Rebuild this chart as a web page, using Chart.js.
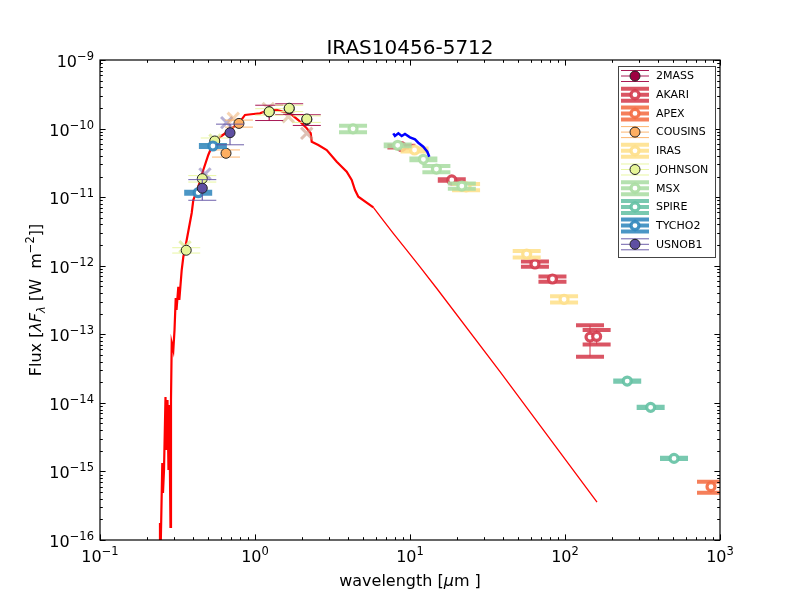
<!DOCTYPE html>
<html><head><meta charset="utf-8">
<script src="https://cdn.jsdelivr.net/npm/chart.js@4.4.0/dist/chart.umd.min.js"></script>
<style>html,body{margin:0;padding:0;background:#fff}canvas{display:block}</style>
</head><body>
<canvas id="c" width="800" height="600"></canvas>
<script>
// ---------------- DATA ----------------
const TITLE = 'IRAS10456-5712';
const xTickExps = [-1, 0, 1, 2, 3];
const yTickExps = [-16, -15, -14, -13, -12, -11, -10, -9];

// model spectrum (red)
const modelLam = [0.2420,0.2438,0.2464,0.2523,0.2549,0.2588,0.2646,0.2685,0.2725,0.2766,0.2799,0.2849,0.2871,0.2902,0.2972,0.3025,0.3080,0.3116,0.3201,0.3249,0.3366,0.3447,0.3625,0.3905,0.3999,0.4306,0.4639,0.4996,0.5383,0.5943,0.6898,0.8002,0.8620,0.9750,1.077,1.190,1.380,1.522,1.682,1.903,2.156,2.288,2.322,2.561,2.901,3.367,3.905,4.206,4.418,4.640,5.80,6.568,7.80,9.52,11.60,14.85,38.07,160.9];
const modelFlux = [8e-17,1.77e-16,8e-17,1.33e-15,4.85e-16,1.05e-15,1.22e-14,2.05e-15,1.10e-14,1.05e-15,9.3e-15,1.55e-16,1.10e-14,7.46e-14,5.90e-14,1.15e-13,3.38e-13,2.26e-13,4.90e-13,3.16e-13,8.66e-13,1.34e-12,2.37e-12,5.87e-12,9.08e-12,1.41e-11,2.49e-11,4.12e-11,6.16e-11,7.54e-11,9.53e-11,1.26e-10,1.58e-10,1.63e-10,1.67e-10,1.82e-10,1.87e-10,1.76e-10,1.67e-10,1.33e-10,1.01e-10,8.53e-11,6.43e-11,5.76e-11,4.87e-11,3.29e-11,2.35e-11,1.78e-11,1.27e-11,1.015e-11,7.11e-12,4.91e-12,2.97e-12,1.69e-12,9.6e-13,4.69e-13,2.85e-14,3.58e-16];

// observed spectrum (blue)
const specLam = [7.80,8.00,8.41,8.84,9.28,10.0,10.77,11.31,12.18,12.93,13.32];
const specFlux = [8.53e-11,7.79e-11,8.53e-11,7.79e-11,8.33e-11,7.46e-11,6.97e-11,6.22e-11,5.44e-11,4.60e-11,3.89e-11];

// photometry
const surveys = ['2MASS','AKARI','APEX','COUSINS','IRAS','JOHNSON','MSX','SPIRE','TYCHO2','USNOB1'];

const lam_2MASS = [1.235, 1.662, 2.159];
const flux_2MASS = [1.75e-10, 1.95e-10, 1.35e-10];
const err_2MASS = [4.4e-11, 3.5e-11, 2.4e-11];

const lam_AKARI = [8.8, 18.6, 64, 83, 145, 160];
const flux_AKARI = [5.45e-11, 1.78e-11, 1.06e-12, 6.4e-13, 9.1e-14, 9.3e-14];
const err_AKARI = [1.6e-12, 5e-13, 9.3e-14, 5.6e-14, 4.4e-14, 2.2e-14];

const lam_APEX = [875];
const flux_APEX = [6.0e-16];
const err_APEX = [1.1e-16];

const lam_COUSINS = [0.65, 0.788];
const flux_COUSINS = [4.36e-11, 1.19e-10];
const err_COUSINS = [5.2e-12, 1.4e-11];

const lam_IRAS = [10.7, 23.0, 56.6, 98.6];
const flux_IRAS = [4.87e-11, 1.41e-11, 1.48e-12, 3.24e-13];
const err_IRAS = [2.4e-12, 1.5e-12, 1.6e-13, 3.4e-14];

const lam_JOHNSON = [0.36, 0.457, 0.55, 1.235, 1.662, 2.159];
const flux_JOHNSON = [1.68e-12, 1.86e-11, 6.59e-11, 1.76e-10, 1.98e-10, 1.38e-10];
const err_JOHNSON = [1.5e-13, 2.0e-12, 7e-12, 1.9e-11, 2.1e-11, 1.5e-11];

const lam_MSX = [4.29, 8.33, 12.2, 14.8, 21.6];
const flux_MSX = [9.9e-11, 5.7e-11, 3.56e-11, 2.57e-11, 1.45e-11];
const err_MSX = [1.05e-11, 1.7e-12, 1.1e-12, 2.7e-12, 1.3e-12];

const lam_SPIRE = [252, 357, 505];
const flux_SPIRE = [2.08e-14, 8.6e-15, 1.55e-15];
const err_SPIRE = [4e-16, 1.7e-16, 3e-17];

const lam_TYCHO2 = [0.43, 0.535];
const flux_TYCHO2 = [1.16e-11, 5.57e-11];
const err_TYCHO2 = [3.5e-13, 1.7e-12];

const lam_USNOB1 = [0.457, 0.69];
const flux_USNOB1 = [1.35e-11, 8.7e-11];
const err_USNOB1 = [4.5e-12, 2.9e-11];

// faint cross markers
const crossLam = [0.3535, 0.4757, 0.552, 0.657, 0.724, 1.218, 1.64, 2.156];
const crossFlux = [1.89e-12, 2.18e-11, 6.81e-11, 1.22e-10, 1.41e-10, 1.97e-10, 1.49e-10, 8.53e-11];

// ---------------- STYLE ----------------
const surveyRGB = [[158,1,66],[213,62,79],[244,109,67],[253,174,97],[254,224,139],[230,245,152],[171,221,164],[102,194,165],[50,136,189],[94,79,162]];
const surveyOpen = [false,true,true,false,true,false,true,true,true,false];
const crossRGBA = ['rgba(220,235,150,0.75)','rgba(94,79,162,0.45)','rgba(220,235,150,0.75)','rgba(94,79,162,0.45)','rgba(240,170,100,0.5)','rgba(210,170,120,0.5)','rgba(210,170,120,0.55)','rgba(200,150,130,0.6)'];
const CAP = 14;
const FONT = '"DejaVu Sans"';

const seriesTable = {
  '2MASS':[lam_2MASS,flux_2MASS,err_2MASS], 'AKARI':[lam_AKARI,flux_AKARI,err_AKARI],
  'APEX':[lam_APEX,flux_APEX,err_APEX], 'COUSINS':[lam_COUSINS,flux_COUSINS,err_COUSINS],
  'IRAS':[lam_IRAS,flux_IRAS,err_IRAS], 'JOHNSON':[lam_JOHNSON,flux_JOHNSON,err_JOHNSON],
  'MSX':[lam_MSX,flux_MSX,err_MSX], 'SPIRE':[lam_SPIRE,flux_SPIRE,err_SPIRE],
  'TYCHO2':[lam_TYCHO2,flux_TYCHO2,err_TYCHO2], 'USNOB1':[lam_USNOB1,flux_USNOB1,err_USNOB1]
};
const rgba = (c,a)=>`rgba(${c[0]},${c[1]},${c[2]},${a})`;
const zip = (xs,ys)=>xs.map((x,i)=>({x:x,y:ys[i]}));

const datasets = [];
datasets.push({label:'spectrum', data:zip(specLam,specFlux), showLine:true, borderColor:'#0000ff', borderWidth:2.5, pointRadius:0, order:0, clip:0});
surveys.forEach((s,i)=>{
  const [l,f,e] = seriesTable[s];
  const c = surveyRGB[i], open = surveyOpen[i];
  datasets.push({
    label:s, data:zip(l,f), yerr:e, showLine:false,
    errColor: open ? rgba(c,0.88) : rgba(c,0.9), capWidth: open ? 4 : 1, stemWidth: 1.2,
    pointStyle:'circle',
    pointRadius: open ? 4 : 5,
    pointBorderWidth: open ? 3.2 : 1,
    pointBorderColor: open ? rgba(c,0.92) : '#222',
    pointBackgroundColor: open ? '#ffffff' : rgba(c,1),
    order: 19 - i
  });
});
datasets.push({label:'cross', data:zip(crossLam,crossFlux), showLine:false, pointStyle:'crossRot', pointRadius:8, pointBorderWidth:3, pointBorderColor:crossRGBA, pointBackgroundColor:crossRGBA, order:30});
datasets.push({label:'model', data:zip(modelLam,modelFlux), showLine:true, borderColor:'#ff0000', borderWidth:1.3, pointRadius:0, order:50, clip:0,
  segment:{borderWidth: c => (c.p0.parsed.x < 5 ? 2.2 : 1.3)}});

// ---------------- PLUGINS ----------------
const errorBars = {
  id:'errorBars',
  beforeDatasetDraw(chart, args){
    const ds = chart.data.datasets[args.index];
    if (!ds.yerr) return;
    const xs = chart.scales.x, ys = chart.scales.y, ctx = chart.ctx, ca = chart.chartArea;
    ctx.save();
    ctx.beginPath(); ctx.rect(ca.left, ca.top, ca.right-ca.left, ca.bottom-ca.top); ctx.clip();
    ctx.strokeStyle = ds.errColor; ctx.lineCap = 'butt';
    ds.data.forEach((p,i)=>{
      const e = ds.yerr[i];
      const px = xs.getPixelForValue(p.x);
      const y1 = ys.getPixelForValue(p.y + e);
      const y2 = ys.getPixelForValue(Math.max(p.y - e, 1e-30));
      ctx.lineWidth = ds.stemWidth;
      ctx.beginPath(); ctx.moveTo(px,y1); ctx.lineTo(px,y2); ctx.stroke();
      ctx.lineWidth = ds.capWidth;
      ctx.beginPath();
      ctx.moveTo(px-CAP,y1); ctx.lineTo(px+CAP,y1);
      ctx.moveTo(px-CAP,y2); ctx.lineTo(px+CAP,y2);
      ctx.stroke();
    });
    ctx.restore();
  }
};

function drawSegs(ctx, segs, x, y, align){
  let total = 0;
  segs.forEach(s=>{ ctx.font = s.f; s.w = ctx.measureText(s.t).width; total += s.w; });
  let cx = align==='center' ? x - total/2 : (align==='right' ? x - total : x);
  segs.forEach(s=>{ ctx.font = s.f; ctx.fillText(s.t, cx, y + (s.dy||0)); cx += s.w; });
}
function powSegs(e){
  const sup = e < 0 ? '\u2212' + Math.abs(e) : String(e);
  return [{t:'10', f:`16px ${FONT}`}, {t:sup, f:`11.5px ${FONT}`, dy:-7}];
}

const axesDeco = {
  id:'axesDeco',
  afterDraw(chart){
    const ctx = chart.ctx, ca = chart.chartArea, xs = chart.scales.x, ys = chart.scales.y;
    ctx.save();
    ctx.fillStyle = '#000'; ctx.strokeStyle = '#000'; ctx.textAlign = 'left'; ctx.textBaseline = 'alphabetic';
    // frame
    ctx.lineWidth = 1.2;
    ctx.strokeRect(ca.left, ca.top, ca.right-ca.left, ca.bottom-ca.top);
    // ticks
    ctx.lineWidth = 1;
    const MAJ = 5.6, MIN = 2.8;
    xTickExps.forEach((e,k)=>{
      for (let m=1; m<=9; m++){
        if (m>1 && k===xTickExps.length-1) break;
        const px = Math.round(xs.getPixelForValue(m*Math.pow(10,e))) + 0.5;
        const L = m===1 ? MAJ : MIN;
        ctx.beginPath();
        ctx.moveTo(px, ca.bottom); ctx.lineTo(px, ca.bottom - L);
        ctx.moveTo(px, ca.top); ctx.lineTo(px, ca.top + L);
        ctx.stroke();
      }
      drawSegs(ctx, powSegs(e), xs.getPixelForValue(Math.pow(10,e)), ca.bottom + 22, 'center');
    });
    yTickExps.forEach((e,k)=>{
      for (let m=1; m<=9; m++){
        if (m>1 && k===yTickExps.length-1) break;
        const py = Math.round(ys.getPixelForValue(m*Math.pow(10,e))) + 0.5;
        const L = m===1 ? MAJ : MIN;
        ctx.beginPath();
        ctx.moveTo(ca.left, py); ctx.lineTo(ca.left + L, py);
        ctx.moveTo(ca.right, py); ctx.lineTo(ca.right - L, py);
        ctx.stroke();
      }
      drawSegs(ctx, powSegs(e), ca.left - 6, ys.getPixelForValue(Math.pow(10,e)) + 7, 'right');
    });
    // title
    ctx.font = `20px ${FONT}`; ctx.textAlign = 'center';
    ctx.fillText(TITLE, (ca.left+ca.right)/2, 54);
    ctx.textAlign = 'left';
    // x label
    drawSegs(ctx, [{t:'wavelength [', f:`16px ${FONT}`}, {t:'\u03bc', f:`oblique 16px ${FONT}`}, {t:'m ]', f:`16px ${FONT}`}], (ca.left+ca.right)/2, 586, 'center');
    // y label
    ctx.save();
    ctx.translate(41, (ca.top+ca.bottom)/2);
    ctx.rotate(-Math.PI/2);
    drawSegs(ctx, [
      {t:'Flux [', f:`16px ${FONT}`},
      {t:'\u03bbF', f:`oblique 16px ${FONT}`},
      {t:'\u03bb', f:`oblique 11.5px ${FONT}`, dy:4},
      {t:' [W  m', f:`16px ${FONT}`},
      {t:'\u22122', f:`11.5px ${FONT}`, dy:-7},
      {t:']]', f:`16px ${FONT}`}
    ], 0, 0, 'center');
    ctx.restore();
    // legend
    const lx = 618, ly = 66, lw = 97, lh = 191;
    ctx.fillStyle = '#fff'; ctx.fillRect(lx, ly, lw, lh);
    ctx.strokeStyle = '#444'; ctx.lineWidth = 1; ctx.strokeRect(lx+0.5, ly+0.5, lw, lh);
    surveys.forEach((s,i)=>{
      const cy = 76 + i*18.7, c = surveyRGB[i], open = surveyOpen[i];
      const h0 = 621, h1 = 649, mx = 635;
      ctx.strokeStyle = rgba(c, open ? 0.88 : 0.9);
      if (open){
        ctx.lineWidth = 4;
        ctx.beginPath();
        ctx.moveTo(h0, cy-6); ctx.lineTo(h1, cy-6);
        ctx.moveTo(h0, cy+6); ctx.lineTo(h1, cy+6);
        ctx.moveTo(h0, cy); ctx.lineTo(h1, cy);
        ctx.stroke();
        ctx.lineWidth = 1.2;
        ctx.beginPath(); ctx.moveTo(mx, cy-6); ctx.lineTo(mx, cy+6); ctx.stroke();
        ctx.beginPath(); ctx.arc(mx, cy, 4, 0, 2*Math.PI);
        ctx.fillStyle = '#fff'; ctx.fill();
        ctx.lineWidth = 3.2; ctx.strokeStyle = rgba(c,0.92); ctx.stroke();
      } else {
        ctx.lineWidth = 1;
        ctx.beginPath();
        ctx.moveTo(h0, cy-5.5); ctx.lineTo(h1, cy-5.5);
        ctx.moveTo(h0, cy+5.5); ctx.lineTo(h1, cy+5.5);
        ctx.moveTo(h0, cy); ctx.lineTo(h1, cy);
        ctx.moveTo(mx, cy-5.5); ctx.lineTo(mx, cy+5.5);
        ctx.stroke();
        ctx.beginPath(); ctx.arc(mx, cy, 5, 0, 2*Math.PI);
        ctx.fillStyle = rgba(c,1); ctx.fill();
        ctx.lineWidth = 1; ctx.strokeStyle = '#222'; ctx.stroke();
      }
      ctx.fillStyle = '#000'; ctx.font = `11px ${FONT}`; ctx.textBaseline = 'middle';
      ctx.fillText(s, 656, cy + 0.5);
      ctx.textBaseline = 'alphabetic';
    });
    ctx.restore();
  }
};

new Chart(document.getElementById('c'), {
  type:'scatter',
  data:{datasets:datasets},
  options:{
    responsive:false, animation:false, devicePixelRatio:1,
    layout:{padding:{top:60, right:80, left:0, bottom:0}},
    plugins:{legend:{display:false}, title:{display:false}, tooltip:{enabled:false}},
    scales:{
      x:{type:'logarithmic', min:0.1, max:1000, grid:{display:false}, border:{display:false}, ticks:{display:false},
         afterFit(s){ s.height = 60; }},
      y:{type:'logarithmic', min:1e-16, max:1e-9, grid:{display:false}, border:{display:false}, ticks:{display:false},
         afterFit(s){ s.width = 100; }}
    }
  },
  plugins:[errorBars, axesDeco]
});
</script>
</body></html>
